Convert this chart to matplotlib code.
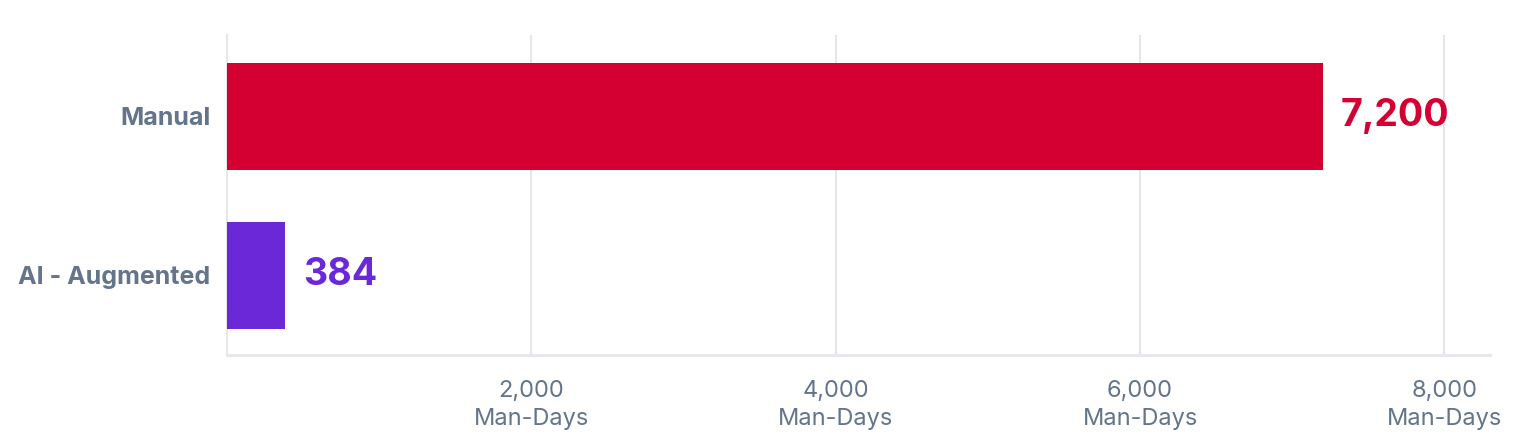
import matplotlib
matplotlib.use("Agg")
import matplotlib.pyplot as plt

categories = ["Manual", "AI - Augmented"]
values = [7200, 384]
bar_colors = ["#D50032", "#6A28D9"]
tick_values = [2000, 4000, 6000, 8000]
tick_labels = [f"{v:,}\nMan-Days" for v in tick_values]

plt.rcParams['font.family'] = ['Inter', 'DejaVu Sans']

fig = plt.figure(figsize=(15.38, 4.45), dpi=100)
ax = fig.add_axes([227/1538, 1 - 355/445, (1490-227)/1538, (355-35)/445])

ypos = list(range(len(categories)))
ax.barh(ypos, values, height=0.67, color=bar_colors, zorder=3)

for y, v, c in zip(ypos, values, bar_colors):
    ax.annotate(f"{v:,}", xy=(v, y), xytext=(13, 0), textcoords="offset points",
                ha="left", va="center", fontsize=27, fontweight="bold", color=c)

ax.set_xlim(0, 8300)
ax.set_ylim(1.5, -0.51)
ax.set_yticks(ypos)
ax.set_yticklabels(categories, fontsize=18, fontweight="bold", color="#64748B")
ax.set_xticks(tick_values)
ax.set_xticklabels(tick_labels, fontsize=17, color="#64748B", linespacing=1.35)
ax.tick_params(axis="both", length=0)
ax.tick_params(axis="y", pad=12)
ax.tick_params(axis="x", pad=18)

ax.grid(axis="x", color="#E5E7EB", linewidth=1.5, zorder=0)
for s in ["top", "right"]:
    ax.spines[s].set_visible(False)
ax.spines["left"].set_color("#E5E7EB")
ax.spines["left"].set_linewidth(1.5)
ax.spines["bottom"].set_color("#E5E7EB")
ax.spines["bottom"].set_linewidth(2)

fig.savefig("out.png", dpi=100)
